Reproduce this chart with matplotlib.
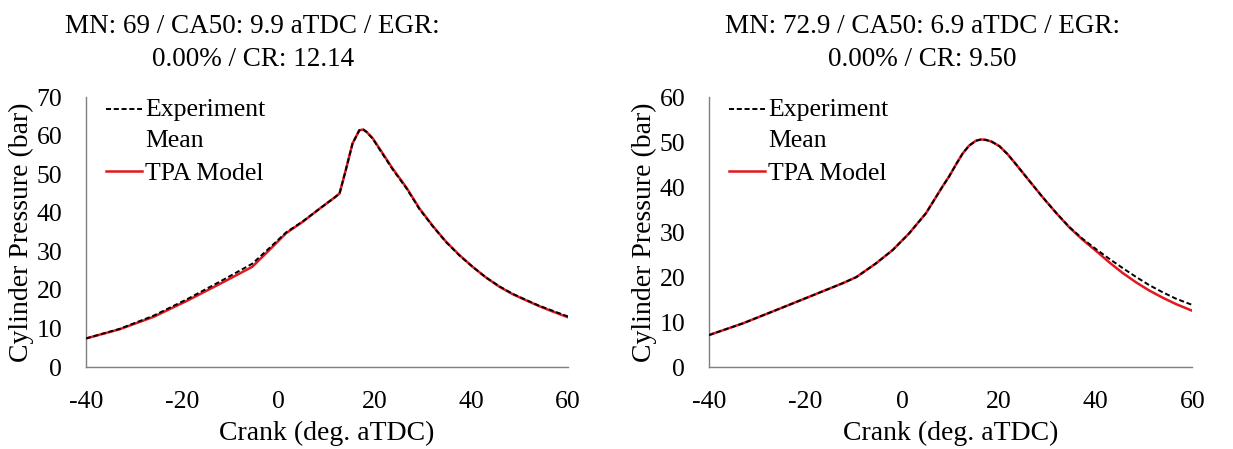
import matplotlib.pyplot as plt
import numpy as np
from matplotlib.legend_handler import HandlerLine2D

plt.rcParams["font.family"] = ["Liberation Serif", "DejaVu Serif"]
plt.rcParams["axes.unicode_minus"] = False

# left case: MN 69, CR 12.14
crank_l = [-40, -33, -26, -19, -12, -5.5, -2, 1.5, 5, 8.5, 10, 11.5, 12.6, 13.9, 15.3, 16.7, 17.5,
           18.2, 19.5, 21.5, 23.6, 26.5, 29.2, 32, 34.7, 37.5, 40.2, 43, 45.8, 48.5, 51.3, 54, 56.8, 60]
exp_l = [7.4, 9.9, 13.3, 17.6, 22.3, 26.8, 30.8, 34.9, 37.8, 41.1, 42.5, 43.9, 45.0, 51.1, 58.0, 61.4, 61.6,
         61.0, 59.2, 55.3, 51.3, 46.3, 40.9, 36.4, 32.4, 28.9, 26.0, 23.2, 20.9, 19.0, 17.4, 15.9, 14.6, 13.1]
tpa_l = [7.4, 9.8, 13.0, 17.2, 21.7, 26.0, 30.3, 34.7, 37.7, 41.1, 42.5, 43.9, 45.0, 51.1, 58.0, 61.4, 61.6,
         61.0, 59.3, 55.5, 51.5, 46.5, 41.1, 36.5, 32.5, 29.0, 26.0, 23.2, 20.8, 18.9, 17.3, 15.8, 14.4, 12.9]

# right case: MN 72.9, CR 9.50
crank_r = [-40, -33, -26, -19.3, -12.4, -9.5, -5.5, -2, 1.4, 4.9, 8.3, 9.7, 11.2, 12.5, 13.8, 15.2, 16.3,
           17.3, 18.5, 20.1, 21.8, 23.5, 26.2, 29, 31.8, 34.5, 37.3, 40.1, 42.9, 45.6, 48.4, 51.1, 53.9, 56.6, 60]
exp_r = [7.1, 9.7, 12.7, 15.6, 18.6, 20.0, 23.0, 26.0, 29.7, 34.2, 40.1, 42.4, 45.2, 47.5, 49.2, 50.3, 50.6,
         50.5, 50.1, 49.1, 47.3, 45.1, 41.5, 37.8, 34.3, 31.2, 28.5, 26.2, 24.0, 22.0, 20.0, 18.2, 16.6, 15.2, 13.8]
tpa_r = [7.1, 9.7, 12.7, 15.6, 18.6, 20.0, 23.0, 26.0, 29.7, 34.2, 40.1, 42.4, 45.2, 47.5, 49.2, 50.3, 50.6,
         50.5, 50.1, 49.1, 47.3, 45.1, 41.5, 37.8, 34.3, 31.1, 28.3, 25.8, 23.2, 20.9, 18.8, 17.0, 15.4, 14.0, 12.5]

titles = ["MN: 69 / CA50: 9.9 aTDC / EGR:\n0.00% / CR: 12.14",
          "MN: 72.9 / CA50: 6.9 aTDC / EGR:\n0.00% / CR: 9.50"]
ymax = [70, 60]


class TopLineHandler(HandlerLine2D):
    # put the legend line next to the first row of a two-row label
    def create_artists(self, legend, orig_handle, xdescent, ydescent, width, height, fontsize, trans):
        arts = super().create_artists(legend, orig_handle, xdescent, ydescent, width, height, fontsize, trans)
        for a in arts:
            a.set_ydata(np.asarray(a.get_ydata()) + 0.62 * fontsize)
        return arts


fig = plt.figure(figsize=(12.33, 4.49), dpi=100)
ax1 = fig.add_axes([0.0697, 0.1826, 0.391, 0.601])
ax2 = fig.add_axes([0.575, 0.1826, 0.392, 0.601])

data = [(crank_l, exp_l, tpa_l), (crank_r, exp_r, tpa_r)]
title_x = [0.205, 0.748]

for i, ax in enumerate([ax1, ax2]):
    x, e, t = data[i]
    l_exp, = ax.plot(x, e, color="black", linestyle=(0, (2.6, 1.4)), linewidth=1.4,
                     label="Experiment\nMean", zorder=3)
    l_tpa, = ax.plot(x, t, color="#e3171f", linewidth=1.8, label="TPA Model", zorder=2)
    ax.set_xlim(-40, 60)
    ax.set_ylim(0, ymax[i])
    ax.set_xticks(np.arange(-40, 61, 20))
    ax.set_yticks(np.arange(0, ymax[i] + 1, 10))
    ax.tick_params(length=0, labelsize=18.5)
    ax.tick_params(axis="x", pad=17)
    ax.tick_params(axis="y", pad=17)
    for s in ["top", "right"]:
        ax.spines[s].set_visible(False)
    for s in ["left", "bottom"]:
        ax.spines[s].set_color("#7f7f7f")
        ax.spines[s].set_linewidth(1.0)
    ax.set_xlabel("Crank (deg. aTDC)", fontsize=20, labelpad=6)
    ax.set_ylabel("Cylinder Pressure (bar)", fontsize=20, labelpad=2)
    leg = ax.legend(loc="upper left", fontsize=18.5, frameon=False, handlelength=1.4,
                    handletextpad=0.1, borderaxespad=0.0, labelspacing=0.4,
                    bbox_to_anchor=(0.021, 1.03), handler_map={l_exp: TopLineHandler()})
    for txt in leg.get_texts():
        txt.set_linespacing(1.5)
    fig.text(title_x[i], 0.968, titles[i], ha="center", va="top", fontsize=19.5, linespacing=1.4)

fig.savefig("out.png", dpi=100)
